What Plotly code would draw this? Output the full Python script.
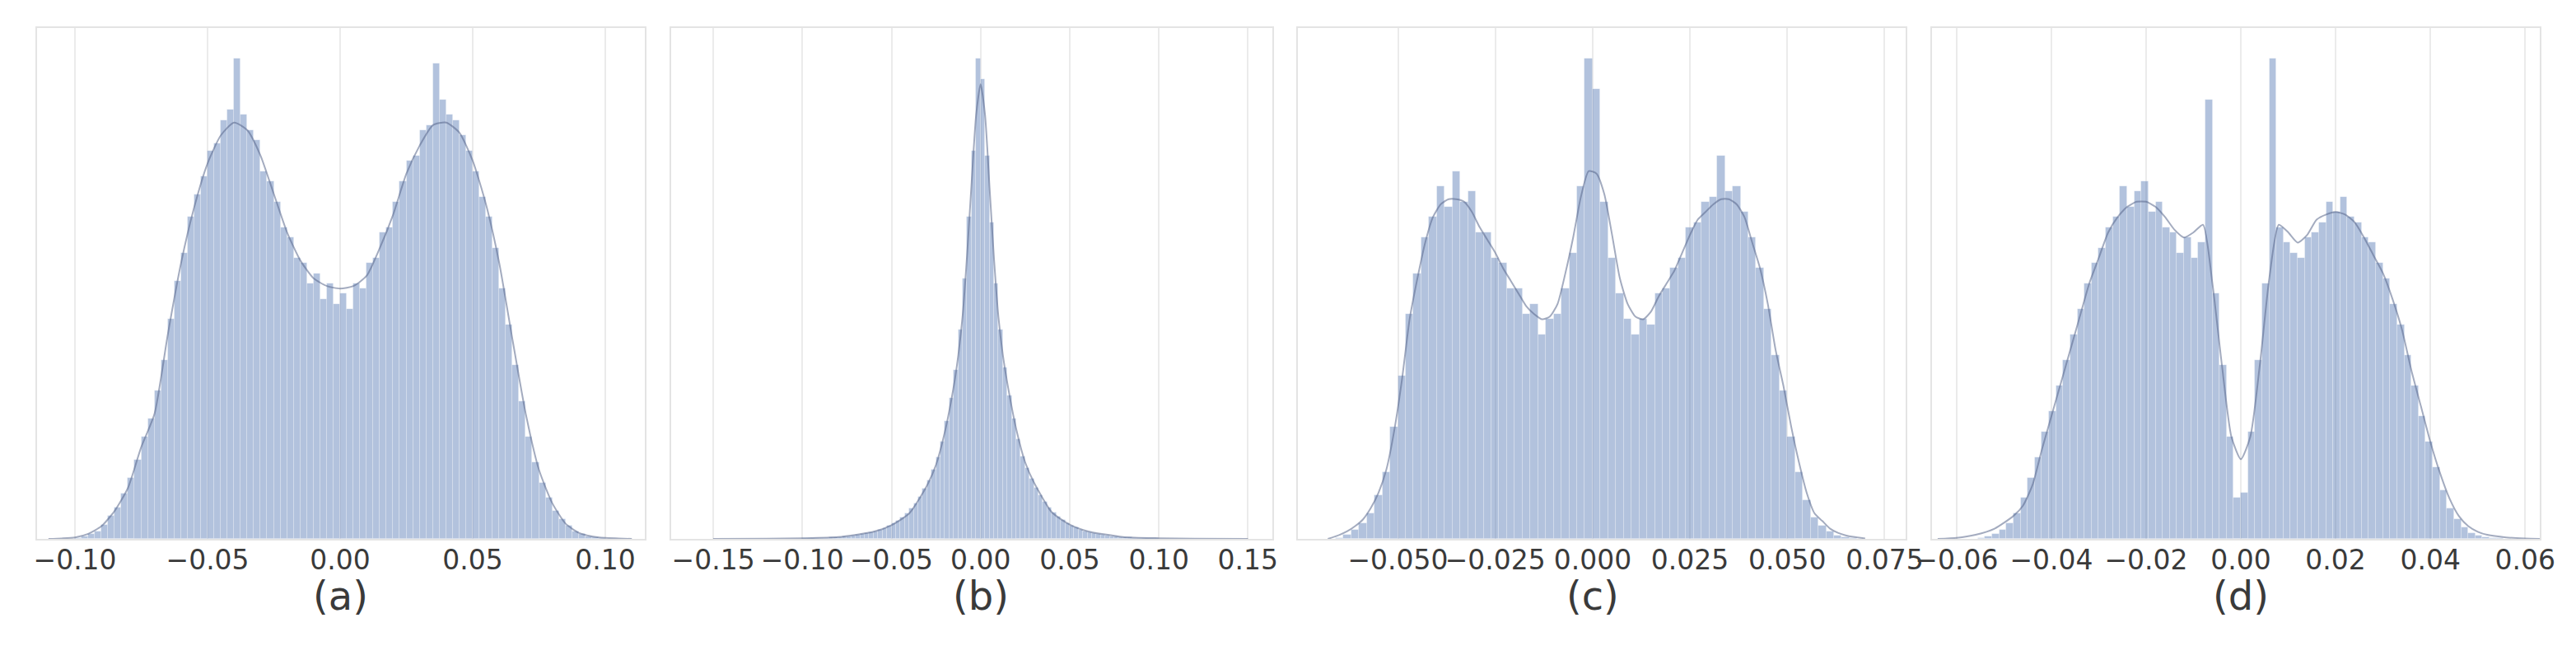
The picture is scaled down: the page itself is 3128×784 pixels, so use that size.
"""
Histogramas de pesos con KDE superpuesta, 4 paneles (a)-(d).
"""

import plotly.graph_objects as go
from plotly.subplots import make_subplots

BAR_COLOR = "rgba(76,114,176,0.43)"
KDE_COLOR = "rgba(88,102,138,0.55)"
GRID_COLOR = "#ebebeb"
FRAME_COLOR = "#e4e4e4"
TEXT_COLOR = "#3a3a3a"

PANEL_LABELS = ["(a)", "(b)", "(c)", "(d)"]

# --- (a) ---------------------------------------------------------------
A_BIN_START = -0.1
A_BIN_WIDTH = 0.0025
A_HIST = [
    0.02, 0.05, 0.09, 0.15, 0.28, 0.45, 0.62, 0.88, 1.2, 1.55,
    2.0, 2.35, 2.9, 3.5, 4.3, 5.05, 5.6, 6.3, 6.75, 7.1,
    7.6, 7.75, 8.2, 8.4, 9.4, 8.3, 8.0, 7.8, 7.2, 7.0,
    6.6, 6.1, 5.9, 5.5, 5.4, 5.0, 5.2, 4.7, 5.0, 4.6,
    4.8, 4.5, 5.0, 4.9, 5.4, 5.5, 6.0, 6.1, 6.6, 7.0,
    7.4, 7.5, 8.0, 8.1, 9.3, 8.6, 8.3, 8.2, 7.9, 7.6,
    7.2, 6.7, 6.3, 5.7, 4.9, 4.2, 3.4, 2.7, 2.0, 1.5,
    1.1, 0.8, 0.55, 0.38, 0.25, 0.15, 0.09, 0.05, 0.03, 0.01,
]
A_KDE_X = [
    -0.110, -0.105, -0.100, -0.095, -0.090, -0.085, -0.080, -0.075, -0.070,
    -0.065, -0.060, -0.055, -0.050, -0.045, -0.040, -0.035, -0.030, -0.025,
    -0.020, -0.015, -0.010, -0.005, 0.000, 0.005, 0.010, 0.015, 0.020,
    0.025, 0.030, 0.035, 0.040, 0.045, 0.050, 0.055, 0.060, 0.065,
    0.070, 0.075, 0.080, 0.085, 0.090, 0.095, 0.100, 0.105, 0.110,
]
A_KDE_Y = [
    0.0, 0.01, 0.03, 0.1, 0.25, 0.55, 1.0, 1.8, 2.45,
    4.0, 5.4, 6.5, 7.35, 7.9, 8.15, 8.0, 7.5, 6.75,
    6.0, 5.45, 5.1, 4.95, 4.9, 4.95, 5.15, 5.7, 6.35,
    7.15, 7.7, 8.1, 8.15, 7.95, 7.4, 6.55, 5.4, 3.9,
    2.45, 1.35, 0.7, 0.3, 0.12, 0.05, 0.02, 0.01, 0.0,
]

# --- (b) ---------------------------------------------------------------
B_BIN_START = -0.1
B_BIN_WIDTH = 0.0025
B_HIST = [
    0.009, 0.011, 0.013, 0.016, 0.019, 0.023, 0.028, 0.033, 0.04, 0.045,
    0.055, 0.065, 0.08, 0.09, 0.11, 0.13, 0.15, 0.18, 0.21, 0.25,
    0.3, 0.36, 0.42, 0.5, 0.6, 0.7, 0.83, 0.98, 1.15, 1.35,
    1.6, 1.9, 2.3, 2.75, 3.3, 4.1, 5.1, 6.3, 7.6, 9.4,
    9.0, 7.5, 6.2, 5.0, 4.1, 3.35, 2.8, 2.35, 1.95, 1.62,
    1.38, 1.17, 1.0, 0.85, 0.72, 0.61, 0.51, 0.43, 0.37, 0.31,
    0.26, 0.22, 0.18, 0.15, 0.13, 0.11, 0.09, 0.08, 0.065, 0.055,
    0.045, 0.04, 0.033, 0.028, 0.023, 0.019, 0.016, 0.013, 0.011, 0.009,
]
B_KDE_X = [
    -0.15, -0.12, -0.10, -0.08, -0.06, -0.05, -0.04, -0.03, -0.025, -0.02,
    -0.015, -0.0125, -0.01, -0.0075, -0.005, -0.0025, 0.0, 0.0025, 0.005,
    0.0075, 0.01, 0.0125, 0.015, 0.02, 0.025, 0.03, 0.04, 0.05, 0.06,
    0.08, 0.10, 0.12, 0.15,
]
B_KDE_Y = [
    0.0, 0.005, 0.012, 0.035, 0.14, 0.27, 0.5, 1.05, 1.45, 2.1,
    3.0, 3.6, 4.4, 5.6, 7.0, 8.3, 8.9, 8.3, 6.9,
    5.5, 4.35, 3.6, 3.05, 2.15, 1.5, 1.1, 0.52, 0.28, 0.15,
    0.037, 0.013, 0.005, 0.0,
]

# --- (c) ---------------------------------------------------------------
C_BIN_START = -0.068
C_BIN_WIDTH = 0.002
C_HIST = [
    0.0, 0.02, 0.08, 0.18, 0.3, 0.5, 0.85, 1.3, 2.2, 3.2,
    4.4, 5.2, 5.9, 6.3, 6.9, 6.5, 7.2, 6.6, 6.8, 6.0,
    6.0, 5.5, 5.4, 4.9, 4.9, 4.4, 4.6, 4.0, 4.3, 4.4,
    4.9, 5.6, 6.9, 9.4, 8.8, 6.6, 5.5, 4.8, 4.3, 4.0,
    4.3, 4.2, 4.8, 4.9, 5.3, 5.5, 6.1, 6.2, 6.6, 6.7,
    7.5, 6.8, 6.9, 6.4, 5.9, 5.3, 4.5, 3.6, 2.9, 2.0,
    1.3, 0.75, 0.42, 0.25, 0.14, 0.07, 0.03, 0.01,
]
C_KDE_X = [
    -0.068, -0.065, -0.063, -0.061, -0.059, -0.057, -0.055, -0.053, -0.051,
    -0.049, -0.047, -0.045, -0.043, -0.041, -0.039, -0.037, -0.035, -0.033,
    -0.031, -0.029, -0.027, -0.025, -0.023, -0.021, -0.019, -0.017, -0.015,
    -0.013, -0.011, -0.009, -0.007, -0.005, -0.003, -0.001, 0.001, 0.003,
    0.005, 0.007, 0.009, 0.011, 0.013, 0.015, 0.017, 0.019, 0.021,
    0.023, 0.025, 0.027, 0.029, 0.031, 0.033, 0.035, 0.037, 0.039,
    0.041, 0.043, 0.045, 0.047, 0.049, 0.051, 0.053, 0.055, 0.057,
    0.059, 0.061, 0.063, 0.065, 0.067, 0.070,
]
C_KDE_Y = [
    0.0, 0.08, 0.15, 0.25, 0.38, 0.6, 0.9, 1.35, 2.1,
    3.1, 4.3, 5.1, 5.8, 6.3, 6.55, 6.65, 6.65, 6.6,
    6.4, 6.1, 5.85, 5.6, 5.3, 5.05, 4.8, 4.55, 4.4,
    4.3, 4.35, 4.6, 5.2, 5.9, 6.7, 7.2, 7.15, 6.75,
    5.95, 5.1, 4.6, 4.35, 4.3, 4.45, 4.75, 5.0, 5.25,
    5.6, 5.95, 6.25, 6.4, 6.55, 6.65, 6.65, 6.55, 6.3,
    5.8, 5.3, 4.6, 3.7, 3.0, 2.2, 1.5, 0.9, 0.5,
    0.35, 0.2, 0.12, 0.07, 0.04, 0.01,
]

# --- (d) ---------------------------------------------------------------
D_BIN_START = -0.057
D_BIN_WIDTH = 0.0015
D_HIST = [
    0.0, 0.02, 0.05, 0.1, 0.18, 0.3, 0.5, 0.8, 1.2, 1.6,
    2.1, 2.5, 3.0, 3.5, 4.0, 4.5, 5.0, 5.4, 5.7, 6.1,
    6.3, 6.9, 6.5, 6.8, 7.0, 6.4, 6.6, 6.1, 6.0, 5.6,
    5.9, 5.5, 5.8, 8.6, 4.8, 3.4, 2.0, 0.8, 0.9, 2.1,
    3.5, 5.0, 9.4, 6.1, 5.8, 5.6, 5.5, 5.9, 6.0, 6.2,
    6.6, 6.4, 6.7, 6.3, 6.2, 5.9, 5.8, 5.4, 5.1, 4.6,
    4.2, 3.6, 3.0, 2.4, 1.9, 1.4, 0.95, 0.6, 0.38, 0.22,
    0.12, 0.07, 0.04, 0.02, 0.01, 0.0,
]
D_KDE_X = [
    -0.064, -0.060, -0.056, -0.052, -0.048, -0.046, -0.044, -0.042, -0.040,
    -0.038, -0.036, -0.034, -0.032, -0.030, -0.028, -0.026, -0.024, -0.022,
    -0.020, -0.018, -0.016, -0.014, -0.012, -0.010, -0.008, -0.006, -0.004,
    -0.002, 0.000, 0.002, 0.004, 0.006, 0.008, 0.010, 0.012, 0.014,
    0.016, 0.018, 0.020, 0.022, 0.024, 0.026, 0.028, 0.030, 0.032,
    0.034, 0.036, 0.038, 0.040, 0.042, 0.044, 0.046, 0.048, 0.050,
    0.052, 0.056, 0.060, 0.064,
]
D_KDE_Y = [
    0.0, 0.02, 0.08, 0.2, 0.45, 0.65, 1.05, 1.75, 2.4,
    3.05, 3.7, 4.35, 5.0, 5.5, 6.0, 6.3, 6.5, 6.6,
    6.6, 6.5, 6.3, 6.05, 5.9, 6.0, 6.15, 5.0, 3.4,
    2.0, 1.56, 2.0, 3.4, 5.1, 6.15, 6.0, 5.8, 5.95,
    6.25, 6.35, 6.4, 6.35, 6.2, 5.9, 5.55, 5.2, 4.7,
    4.1, 3.3, 2.6, 1.9, 1.3, 0.8, 0.45, 0.25, 0.14,
    0.08, 0.03, 0.01, 0.0,
]

PANELS = [
    (A_BIN_START, A_BIN_WIDTH, A_HIST, A_KDE_X, A_KDE_Y),
    (B_BIN_START, B_BIN_WIDTH, B_HIST, B_KDE_X, B_KDE_Y),
    (C_BIN_START, C_BIN_WIDTH, C_HIST, C_KDE_X, C_KDE_Y),
    (D_BIN_START, D_BIN_WIDTH, D_HIST, D_KDE_X, D_KDE_Y),
]

X_RANGES = [
    [-0.1143, 0.1149],
    [-0.1736, 0.1637],
    [-0.0757, 0.0804],
    [-0.0652, 0.0631],
]

TICK_VALS = [
    [-0.10, -0.05, 0.0, 0.05, 0.10],
    [-0.15, -0.10, -0.05, 0.0, 0.05, 0.10, 0.15],
    [-0.050, -0.025, 0.0, 0.025, 0.050, 0.075],
    [-0.06, -0.04, -0.02, 0.0, 0.02, 0.04, 0.06],
]
TICK_TEXT = [
    ["\u22120.10", "\u22120.05", "0.00", "0.05", "0.10"],
    ["\u22120.15", "\u22120.10", "\u22120.05", "0.00", "0.05", "0.10", "0.15"],
    ["\u22120.050", "\u22120.025", "0.000", "0.025", "0.050", "0.075"],
    ["\u22120.06", "\u22120.04", "\u22120.02", "0.00", "0.02", "0.04", "0.06"],
]

# posición de cada panel (fracción del ancho); el body del html añade 8px
X_DOMAINS = [
    [0.01183, 0.24776],
    [0.25799, 0.49137],
    [0.50128, 0.73721],
    [0.74744, 0.98338],
]
Y_DOMAIN = [0.176, 0.9668]

fig = make_subplots(rows=1, cols=4)

for i, (start, width, hist, kde_x, kde_y) in enumerate(PANELS):
    col = i + 1
    centers = [start + (k + 0.5) * width for k in range(len(hist))]
    fig.add_trace(go.Bar(
        x=centers,
        y=hist,
        width=width,
        marker_color=BAR_COLOR,
        marker_line=dict(color="rgba(255,255,255,0.35)", width=0.8),
        showlegend=False,
        hoverinfo="skip",
    ), row=1, col=col)
    fig.add_trace(go.Scatter(
        x=kde_x,
        y=kde_y,
        mode="lines",
        line=dict(color=KDE_COLOR, width=2, shape="spline", smoothing=0.6),
        showlegend=False,
        hoverinfo="skip",
    ), row=1, col=col)

    fig.update_xaxes(
        domain=X_DOMAINS[i],
        range=X_RANGES[i],
        automargin=False,
        tickvals=TICK_VALS[i],
        ticktext=TICK_TEXT[i],
        tickangle=0,
        ticks="",
        ticklabelstandoff=-4,
        tickfont=dict(family="DejaVu Sans", size=33, color=TEXT_COLOR),
        showgrid=True,
        gridcolor=GRID_COLOR,
        gridwidth=1.5,
        zeroline=False,
        showline=True,
        linecolor=FRAME_COLOR,
        linewidth=1.5,
        mirror=True,
        row=1, col=col,
    )
    fig.update_yaxes(
        domain=Y_DOMAIN,
        range=[0, 10],
        automargin=False,
        showticklabels=False,
        showgrid=False,
        zeroline=False,
        showline=True,
        linecolor=FRAME_COLOR,
        linewidth=1.5,
        mirror=True,
        row=1, col=col,
    )

    x0, x1 = X_RANGES[i]
    # etiqueta centrada bajo el 0 del eje
    zero_pos = X_DOMAINS[i][0] + (0 - x0) / (x1 - x0) * (X_DOMAINS[i][1] - X_DOMAINS[i][0])
    fig.add_annotation(
        text=PANEL_LABELS[i],
        x=zero_pos,
        y=0.088,
        xref="paper",
        yref="paper",
        xanchor="center",
        yanchor="middle",
        showarrow=False,
        font=dict(family="DejaVu Sans", size=48, color=TEXT_COLOR),
    )

fig.update_layout(
    width=3128,
    height=784,
    margin=dict(l=0, r=0, t=0, b=0),
    bargap=0,
    barmode="overlay",
    plot_bgcolor="white",
    paper_bgcolor="white",
)

fig.write_html("out.html")
